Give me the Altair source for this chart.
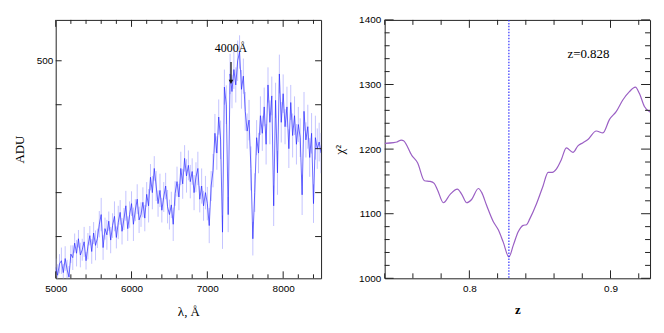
import altair as alt
import pandas as pd

# ---------------- data: spectrum (left panel) ----------------
wave = list(range(5000, 8501, 25))
flux = [
    30, 12, 38, 45, 18, 50, 25, 8, 60, 52,
    85, 62, 95, 58, 70, 88, 45, 78, 102, 66,
    108, 80, 96, 128, 150, 75, 118, 104, 135, 92,
    125, 146, 98, 132, 155, 112, 140, 170, 118, 150,
    175, 128, 160, 185, 138, 150, 178, 142, 196, 170,
    235, 200, 255, 215, 175, 205, 160, 190, 215, 168,
    150, 172, 128, 198, 225, 190, 255, 220, 278, 238,
    262, 225, 248, 200, 235, 255, 185, 215, 170, 200,
    175, 125, 215, 250, 335, 290, 372, 320, 110, 440,
    400, 150, 470, 430, 480, 445, 500, 520, 435, 465,
    385, 340, 365, 255, 95, 200, 325, 290, 375, 335,
    395, 310, 445, 360, 420, 170, 410, 245, 470, 360,
    425, 350, 395, 300, 405, 330, 375, 310, 355, 325,
    195, 385, 320, 350, 280, 335, 175, 325, 300, 315,
    290,
]
err = [
    20, 25, 22, 30, 20, 28, 22, 25, 20, 28,
    22, 30, 20, 28, 25, 34, 20, 30, 22, 28,
    25, 34, 22, 30, 38, 28, 25, 34, 22, 30,
    28, 34, 25, 38, 28, 30, 25, 34, 28, 30,
    28, 38, 25, 34, 30, 28, 34, 30, 28, 38,
    30, 38, 28, 34, 30, 38, 28, 34, 30, 38,
    34, 30, 38, 28, 34, 30, 38, 34, 30, 38,
    34, 38, 30, 40, 34, 38, 30, 40, 34, 38,
    38, 40, 34, 38, 44, 38, 40, 44, 38, 40,
    44, 40, 46, 38, 44, 40, 46, 38, 44, 40,
    44, 40, 46, 50, 38, 44, 40, 46, 44, 40,
    44, 46, 40, 50, 44, 46, 40, 50, 44, 46,
    44, 40, 46, 44, 40, 50, 44, 46, 40, 44,
    46, 44, 40, 50, 44, 46, 44, 50, 46, 44,
    46,
]

# ---------------- data: chi^2 curve (right panel) ----------------
z_vals = [0.7400, 0.7464, 0.7487, 0.7518, 0.7534, 0.7593, 0.7633, 0.7682, 0.7722,
          0.7751, 0.7776, 0.7816, 0.7864, 0.7915, 0.7946, 0.7981, 0.8016, 0.8064,
          0.8087, 0.8122, 0.8169, 0.8205, 0.8240, 0.8280, 0.8311, 0.8346, 0.8381,
          0.8405, 0.8428, 0.8475, 0.8522, 0.8558, 0.8588, 0.8616, 0.8652, 0.8687,
          0.8734, 0.8769, 0.8805, 0.8840, 0.8899, 0.8946, 0.8993, 0.9040, 0.9087,
          0.9134, 0.9176, 0.9205, 0.9240, 0.9282]
chi2 = [1209, 1210, 1211, 1214, 1213, 1190, 1179, 1151, 1150,
        1147, 1136, 1117, 1130, 1138, 1130, 1117, 1122, 1139,
        1133, 1113, 1088, 1075, 1056, 1033, 1051, 1072, 1082,
        1083, 1092, 1115, 1143, 1164, 1164, 1169, 1184, 1202,
        1195, 1205, 1210, 1215, 1228, 1225, 1246, 1258, 1276,
        1289, 1296, 1286, 1266, 1257]
z_best = [0.828]
z_label = ["z=0.828"]

# annotation (4000 A break at z=0.828)
arrow_wave = [7312]
arrow_top = [497]
arrow_tip = [452]
break_label = ["4000Å"]

# tick positions
lx_major = [5000, 6000, 7000, 8000]
lx_minor = [5200, 5400, 5600, 5800, 6200, 6400, 6600, 6800, 7200, 7400, 7600, 7800, 8200, 8400]
ly_ticks = [100, 200, 300, 400, 500]
ly_labels = [500]
rx_major = [0.8, 0.9]
rx_minor = [0.74, 0.76, 0.78, 0.82, 0.84, 0.86, 0.88, 0.92]
ry_major = [1000, 1100, 1200, 1300, 1400]
ry_minor = [1020, 1040, 1060, 1080, 1120, 1140, 1160, 1180, 1220, 1240, 1260, 1280,
            1320, 1340, 1360, 1380]

W, H = 267, 260
LABEL_FONT = "Liberation Sans"
TITLE_FONT = "Liberation Serif"


def tick_layer(vals, chan, side, length, scale):
    df = pd.DataFrame({"v": vals})
    base = alt.Chart(df).mark_rule(color="#222", strokeWidth=1)
    if chan == "x":
        y0, y1 = (H, H - length) if side == "bottom" else (0, length)
        return base.encode(x=alt.X("v:Q", scale=scale),
                           y=alt.value(y0), y2=alt.value(y1))
    x0, x1 = (0, length) if side == "left" else (W, W - length)
    return base.encode(y=alt.Y("v:Q", scale=scale),
                       x=alt.value(x0), x2=alt.value(x1))


# ---------------- left panel ----------------
spec = pd.DataFrame({"wave": wave, "flux": flux, "err": err})
xs_l = alt.Scale(domain=[5000, 8500], nice=False, zero=False)
ys_l = alt.Scale(domain=[5, 593], nice=False, zero=False)

errbars = alt.Chart(spec).transform_calculate(
    lo="datum.flux - datum.err", hi="datum.flux + datum.err"
).mark_rule(color="#c4c4ff", strokeWidth=1, clip=True).encode(
    x=alt.X("wave:Q", scale=xs_l,
            axis=alt.Axis(values=lx_major, title="λ, Å", labelPadding=5, format="d",
                          titlePadding=12, labelFlush=False, labelOverlap=False)),
    y=alt.Y("lo:Q", scale=ys_l,
            axis=alt.Axis(values=ly_labels, title="ADU", labelPadding=3,
                          titlePadding=10)),
    y2="hi:Q",
)
line = alt.Chart(spec).mark_line(color="#2b2bff", strokeWidth=0.7, clip=True).encode(
    x=alt.X("wave:Q", scale=xs_l),
    y=alt.Y("flux:Q", scale=ys_l),
)
ann = pd.DataFrame({"w": arrow_wave, "top": arrow_top, "tip": arrow_tip,
                    "label": break_label})
arrow_shaft = alt.Chart(ann).mark_rule(color="#333", strokeWidth=1.5).encode(
    x=alt.X("w:Q", scale=xs_l),
    y=alt.Y("top:Q", scale=ys_l), y2="tip:Q")
arrow_head = alt.Chart(ann).mark_point(shape="triangle-down", filled=True, color="#111",
                                       size=22, opacity=1).encode(
    x=alt.X("w:Q", scale=xs_l),
    y=alt.Y("tip:Q", scale=ys_l))
arrow_text = alt.Chart(ann).mark_text(font=TITLE_FONT, fontSize=12, color="black",
                                      dy=-7, baseline="bottom").encode(
    x=alt.X("w:Q", scale=xs_l),
    y=alt.Y("top:Q", scale=ys_l),
    text="label:N")

left = alt.layer(
    errbars, line, arrow_shaft, arrow_head, arrow_text,
    tick_layer(lx_major, "x", "bottom", 7, xs_l),
    tick_layer(lx_minor, "x", "bottom", 4, xs_l),
    tick_layer(lx_major, "x", "top", 7, xs_l),
    tick_layer(lx_minor, "x", "top", 4, xs_l),
    tick_layer(ly_ticks, "y", "left", 6, ys_l),
    tick_layer(ly_ticks, "y", "right", 6, ys_l),
).properties(width=W, height=H)

# ---------------- right panel ----------------
chi = pd.DataFrame({"z": z_vals, "chi2": chi2})
xs_r = alt.Scale(domain=[0.74, 0.928], nice=False, zero=False)
ys_r = alt.Scale(domain=[1000, 1400], nice=False, zero=False)

curve = alt.Chart(chi).mark_line(color="#9a5fc4", strokeWidth=1.2,
                                 interpolate="monotone", clip=True).encode(
    x=alt.X("z:Q", scale=xs_r,
            axis=alt.Axis(values=rx_major, title="z", titleFontWeight="bold",
                          labelPadding=5, titlePadding=10, labelFlush=False,
                          format=".1f")),
    y=alt.Y("chi2:Q", scale=ys_r,
            axis=alt.Axis(values=ry_major, title="χ²", labelPadding=4,
                          titlePadding=12, format="d")),
)
best = pd.DataFrame({"z": z_best, "label": z_label})
vline = alt.Chart(best).mark_rule(color="#3030ff", strokeWidth=1.2,
                                  strokeDash=[1.5, 1.5]).encode(
    x=alt.X("z:Q", scale=xs_r))
ztext = alt.Chart(best).mark_text(font=TITLE_FONT, fontSize=13, color="black").encode(
    x=alt.value(205), y=alt.value(34), text="label:N")

right = alt.layer(
    curve, vline, ztext,
    tick_layer(rx_major, "x", "bottom", 8, xs_r),
    tick_layer(rx_minor, "x", "bottom", 5, xs_r),
    tick_layer(rx_major, "x", "top", 8, xs_r),
    tick_layer(rx_minor, "x", "top", 5, xs_r),
    tick_layer(ry_major, "y", "left", 9, ys_r),
    tick_layer(ry_minor, "y", "left", 5, ys_r),
    tick_layer(ry_major, "y", "right", 9, ys_r),
    tick_layer(ry_minor, "y", "right", 5, ys_r),
).properties(width=W, height=H)

chart = alt.hconcat(left, right, spacing=11).properties(
    padding={"left": 4, "top": 5, "right": 5, "bottom": 5}
).configure_view(stroke="#222", strokeWidth=1).configure_axis(
    ticks=False, domain=False, grid=False,
    labelFont=LABEL_FONT, labelFontSize=10, labelColor="black",
    titleFont=TITLE_FONT, titleFontSize=13, titleFontWeight="normal", titleColor="black",
)

chart.save("out.html", embed_options={"renderer": "svg", "actions": False})
